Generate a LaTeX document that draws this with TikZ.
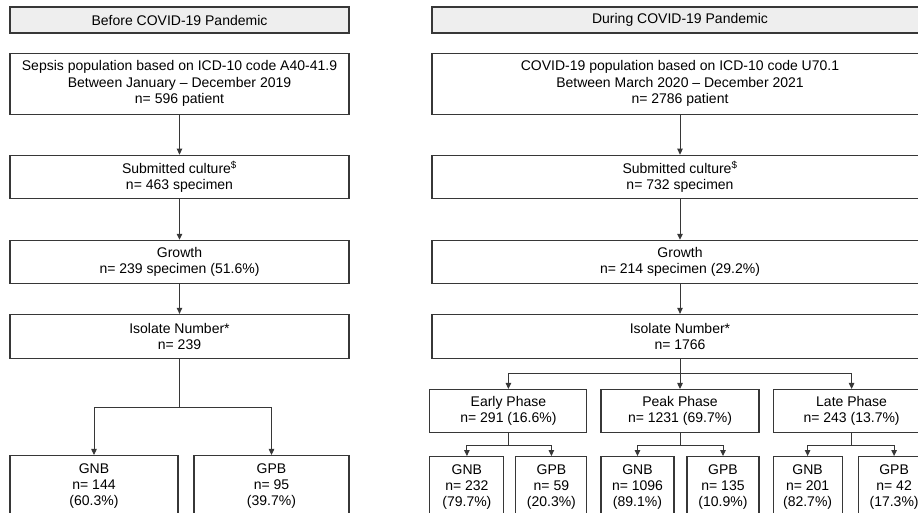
\documentclass[tikz,border=0pt]{standalone}
\usepackage{fontspec}
\setmainfont{Liberation Sans}
\usetikzlibrary{positioning,arrows.meta,calc}
\definecolor{LineGray}{RGB}{55,55,55}
\definecolor{HeadFill}{RGB}{238,238,238}

\begin{document}
\begin{tikzpicture}[x=1pt, y=-1pt,
  box/.style={draw=LineGray, line width=1.1pt, fill=white, inner sep=0pt, align=center, font=\fontsize{14}{16.3}\selectfont},
  head/.style={box, fill=HeadFill, minimum height=26pt},
  arr/.style={draw=LineGray, line width=0.9pt, -{Triangle[length=6pt,width=5.5pt]}},
  link/.style={draw=LineGray, line width=0.9pt}]
  \useasboundingbox (0,0) rectangle (918,512);
  \clip (0,0) rectangle (918,512);

  % before the pandemic
  \node[head, minimum width=339pt] (hdrL) at (179.5,20) {Before COVID-19 Pandemic};
  \node[box, below=19pt of hdrL, minimum width=339pt, minimum height=61pt] (sepsis) {Sepsis population based on ICD-10 code A40-41.9\\Between January -- December 2019\\n= 596 patient};
  \node[box, below=40pt of sepsis, minimum width=339pt, minimum height=43pt] (subL) {Submitted culture\textsuperscript{\$}\\n= 463 specimen};
  \node[box, below=41pt of subL, minimum width=339pt, minimum height=43pt] (growL) {Growth\\n= 239 specimen (51.6\%)};
  \node[box, below=30pt of growL, minimum width=339pt, minimum height=44pt] (isoL) {Isolate Number*\\n= 239};
  \node[box, below right=96pt and 0pt of isoL.south west, minimum width=168pt, minimum height=61pt] (gnbL) {GNB\\n= 144\\(60.3\%)};
  \node[box, below left=96pt and 0pt of isoL.south east, minimum width=155pt, minimum height=61pt] (gpbL) {GPB\\n= 95\\(39.7\%)};

  % during the pandemic
  \node[head, minimum width=496pt] (hdrR) at (680,20) {During COVID-19 Pandemic};
  \node[box, below=19pt of hdrR, minimum width=496pt, minimum height=61pt] (covid) {COVID-19 population based on ICD-10 code U70.1\\Between March 2020 -- December 2021\\n= 2786 patient};
  \node[box, below=40pt of covid, minimum width=496pt, minimum height=43pt] (subR) {Submitted culture\textsuperscript{\$}\\n= 732 specimen};
  \node[box, below=41pt of subR, minimum width=496pt, minimum height=43pt] (growR) {Growth\\n= 214 specimen (29.2\%)};
  \node[box, below=30pt of growR, minimum width=496pt, minimum height=44pt] (isoR) {Isolate Number*\\n= 1766};

  \node[box, below=30pt of isoR, minimum width=158pt, minimum height=43pt] (peak) {Peak Phase\\n= 1231 (69.7\%)};
  \node[box, left=13pt of peak, minimum width=157pt, minimum height=43pt] (early) {Early Phase\\n= 291 (16.6\%)};
  \node[box, right=13pt of peak, minimum width=157pt, minimum height=43pt] (late) {Late Phase\\n= 243 (13.7\%)};

  \node[box, below right=23pt and 0pt of early.south west, minimum width=74pt, minimum height=61pt] (gnbEarly) {GNB\\n= 232\\(79.7\%)};
  \node[box, below left=23pt and 0pt of early.south east, minimum width=71pt, minimum height=61pt] (gpbEarly) {GPB\\n= 59\\(20.3\%)};
  \node[box, below right=23pt and 0pt of peak.south west, minimum width=73pt, minimum height=61pt] (gnbPeak) {GNB\\n= 1096\\(89.1\%)};
  \node[box, below left=23pt and 0pt of peak.south east, minimum width=72pt, minimum height=61pt] (gpbPeak) {GPB\\n= 135\\(10.9\%)};
  \node[box, below right=23pt and 0pt of late.south west, minimum width=69pt, minimum height=61pt] (gnbLate) {GNB\\n= 201\\(82.7\%)};
  \node[box, below left=23pt and 0pt of late.south east, minimum width=72pt, minimum height=61pt] (gpbLate) {GPB\\n= 42\\(17.3\%)};

  % connectors, left
  \draw[arr] (sepsis) -- (subL);
  \draw[arr] (subL) -- (growL);
  \draw[arr] (growL) -- (isoL);
  \coordinate[below=48pt of isoL.south] (splitL);
  \draw[link] (isoL.south) -- (splitL);
  \draw[arr] (splitL) -| (gnbL.north);
  \draw[arr] (splitL) -| (gpbL.north);

  % connectors, right
  \draw[arr] (covid) -- (subR);
  \draw[arr] (subR) -- (growR);
  \draw[arr] (growR) -- (isoR);
  \coordinate[below=14pt of isoR.south] (splitR);
  \draw[link] (isoR.south) -- (splitR);
  \draw[arr] (splitR) -| (early.north);
  \draw[arr] (splitR) -- (peak.north);
  \draw[arr] (splitR) -| (late.north);

  \coordinate[below=12pt of early.south] (splitEarly);
  \draw[link] (early.south) -- (splitEarly);
  \draw[arr] (splitEarly) -| (gnbEarly.north);
  \draw[arr] (splitEarly) -| (gpbEarly.north);
  \coordinate[below=12pt of peak.south] (splitPeak);
  \draw[link] (peak.south) -- (splitPeak);
  \draw[arr] (splitPeak) -| (gnbPeak.north);
  \draw[arr] (splitPeak) -| (gpbPeak.north);
  \coordinate[below=12pt of late.south] (splitLate);
  \draw[link] (late.south) -- (splitLate);
  \draw[arr] (splitLate) -| (gnbLate.north);
  \draw[arr] (splitLate) -| (gpbLate.north);
\end{tikzpicture}
\end{document}
